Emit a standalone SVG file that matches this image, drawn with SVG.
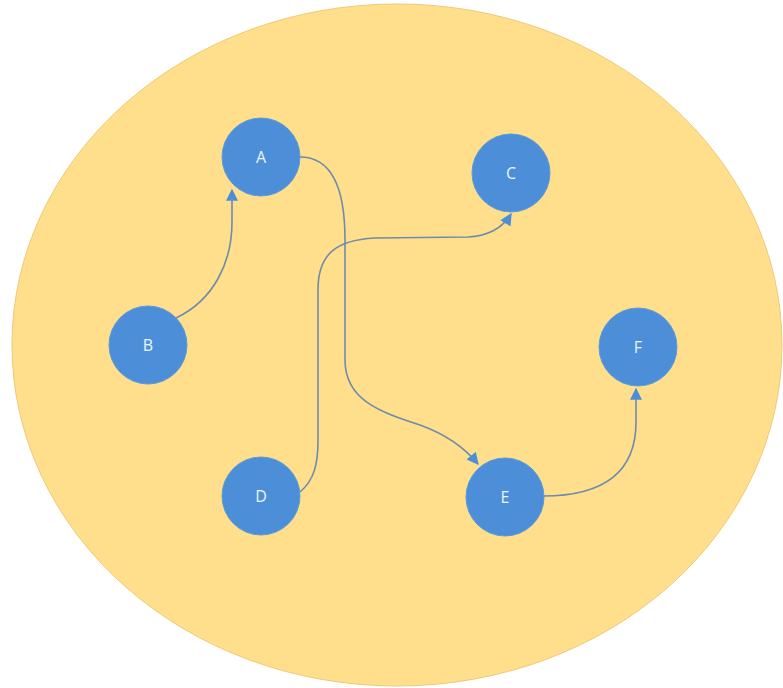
<svg xmlns="http://www.w3.org/2000/svg" width="783" height="688" viewBox="0 0 783 688">
  <defs>
    <style>
      .node circle { fill: #4C8FD8; stroke: #5A9BDC; stroke-width: 1; }
      .node text { fill: #EEF4FB; font-family: "Open Sans", "Liberation Sans", sans-serif; font-size: 16px; text-anchor: middle; dominant-baseline: central; }
      .edge { fill: none; stroke: #6F8CAA; stroke-width: 1.6; marker-end: url(#arrow); }
    </style>
    <marker id="arrow" viewBox="0 0 10 10" refX="9" refY="5" markerWidth="13" markerHeight="12" markerUnits="userSpaceOnUse" orient="auto">
      <path d="M0,0 L10,5 L0,10 Z" fill="#4C8FD8"/>
    </marker>
  </defs>

  <rect width="783" height="688" fill="#FFFFFF"/>

  <!-- container -->
  <ellipse id="container" cx="397" cy="345" rx="385" ry="341" fill="#FFDF8C" stroke="#EFC877" stroke-width="1"/>

  <!-- connectors -->
  <g id="connectors">
    <path class="edge" d="M176,318 C214,300 232,262 232,222 L232,190"/>
    <path class="edge" d="M300,157 C330,157 345,185 345,240 L345,360 C345,400 380,412 420,425 C445,434 464,447 478,464"/>
    <path class="edge" d="M300,492 C314,480 318,465 318,440 L318,290 C318,255 335,240 375,238 L468,237 C488,236 502,229 511,214"/>
    <path class="edge" d="M543,496 C600,496 636,475 636,422 L636,389"/>
  </g>

  <!-- nodes -->
  <g id="node-A" class="node"><circle cx="261" cy="157" r="39"/><text x="261" y="157">A</text></g>
  <g id="node-C" class="node"><circle cx="511" cy="173" r="39"/><text x="511" y="173">C</text></g>
  <g id="node-B" class="node"><circle cx="148" cy="345" r="39"/><text x="148" y="345">B</text></g>
  <g id="node-F" class="node"><circle cx="638" cy="347" r="39"/><text x="638" y="347">F</text></g>
  <g id="node-D" class="node"><circle cx="261" cy="496" r="39"/><text x="261" y="496">D</text></g>
  <g id="node-E" class="node"><circle cx="505" cy="497" r="39"/><text x="505" y="497">E</text></g>
</svg>
